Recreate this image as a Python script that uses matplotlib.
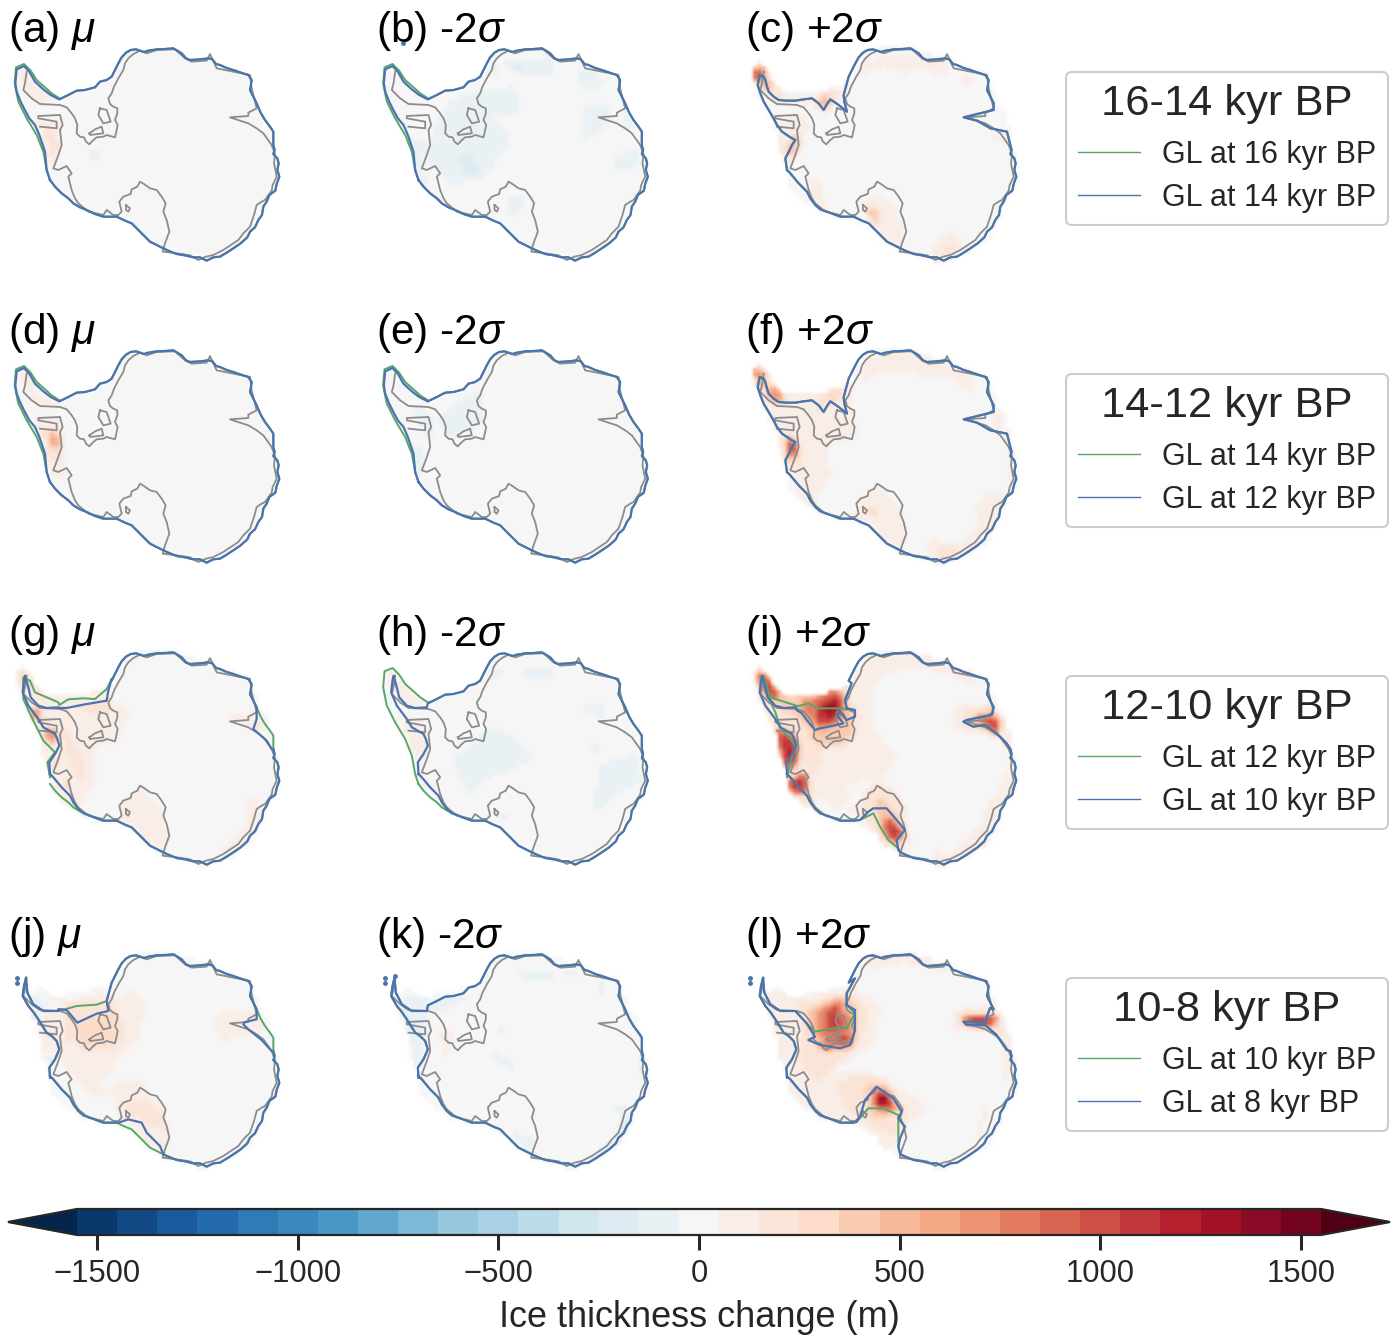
import matplotlib
matplotlib.use("Agg")
import matplotlib.pyplot as plt
import numpy as np
from matplotlib.cm import ScalarMappable
from matplotlib.colors import BoundaryNorm, ListedColormap
from matplotlib.lines import Line2D
from matplotlib.path import Path

plt.rcParams['font.family'] = ['Liberation Sans', 'DejaVu Sans']
plt.rcParams['mathtext.fontset'] = 'custom'
plt.rcParams['mathtext.it'] = 'Liberation Sans:italic'
plt.rcParams['mathtext.rm'] = 'Liberation Sans'

# map coordinates: 3 units per pixel, same frame in each panel
pen_far = [(150, 450), (140, 420), (135, 365), (118, 315), (105, 285), (88, 265), (72, 235), (62, 215), (50, 185), (46, 160), (50, 118), (72, 108), (88, 125), (105, 155), (130, 178), (152, 195), (178, 208)]
pen_out = [(150, 450), (140, 420), (130, 365), (110, 315), (80, 265), (55, 215), (44, 160), (48, 112), (72, 102), (92, 122), (110, 150), (135, 172), (155, 190), (178, 205)]
pen_c = [(150, 420), (145, 385), (158, 360), (165, 345), (175, 330), (160, 322), (150, 315), (135, 305), (120, 285), (108, 262), (95, 240), (80, 215), (70, 190), (62, 165), (68, 135), (80, 140), (85, 150), (90, 170), (95, 185), (110, 200), (125, 210), (150, 212), (175, 212)]
pen_g_blue = [(150, 420), (148, 385), (165, 360), (178, 335), (172, 315), (165, 300), (130, 280), (115, 255), (100, 235), (85, 215), (68, 175), (72, 140), (75, 125), (85, 160), (92, 190), (115, 215), (140, 222), (175, 220)]
pen_g_green = [(150, 430), (142, 385), (165, 355), (130, 320), (95, 250), (70, 195), (70, 130), (90, 140), (105, 175), (175, 205)]
pen_i_green = [(150, 430), (160, 385), (175, 335), (130, 280), (115, 235), (85, 170), (80, 130), (100, 190), (178, 215)]
pen_l = [(150, 425), (148, 395), (165, 370), (178, 340), (170, 315), (155, 300), (140, 290), (115, 250), (100, 228), (85, 210), (68, 180), (72, 150), (78, 125), (82, 170), (100, 205), (130, 225), (175, 225)]

wed_far = [(178, 208), (205, 195), (230, 182), (255, 180), (285, 172), (300, 155), (320, 150), (335, 140)]
wed_c = [(175, 212), (200, 208), (225, 205), (245, 220), (260, 240), (270, 222), (280, 208), (305, 225), (330, 245), (322, 215), (320, 195), (335, 140)]
wed_g_blue = [(175, 222), (200, 222), (250, 212), (320, 200), (325, 170), (335, 135)]
wed_g_green = [(178, 213), (205, 196), (250, 193), (285, 195), (320, 165), (335, 135)]
wed_i_blue = [(179, 228), (195, 238), (209, 258), (234, 288), (249, 283), (299, 273), (319, 268), (299, 243), (309, 233), (329, 258), (354, 248), (354, 228), (329, 223), (324, 198), (344, 148)]
wed_i_green = [(178, 218), (214, 208), (244, 223), (274, 223), (319, 223), (329, 228), (324, 198), (344, 148)]
wed_j_blue = [(175, 220), (200, 222), (232, 260), (290, 233), (325, 225), (320, 195), (335, 140)]
wed_j_green = [(175, 220), (195, 220), (230, 210), (290, 206), (320, 195), (335, 140)]
wed_l_blue = [(175, 225), (209, 262), (234, 302), (214, 312), (249, 327), (309, 337), (339, 327), (354, 282), (354, 222), (329, 207), (329, 172), (354, 127)]
wed_l_green = [(175, 225), (209, 262), (234, 287), (289, 277), (329, 277), (354, 232), (329, 207), (329, 172), (354, 127)]

east = [(335, 140), (345, 120), (355, 100), (365, 82), (378, 68), (392, 60), (408, 58), (420, 62), (432, 66), (445, 62), (470, 58), (495, 57), (520, 55), (532, 62), (545, 70), (558, 85), (570, 90), (600, 88), (625, 85), (637, 88), (648, 102), (660, 105), (680, 114), (700, 120), (720, 127), (745, 135), (755, 150), (752, 170), (750, 180), (760, 200), (770, 220)]
amery_far = [(770, 220), (782, 248), (795, 270), (810, 290), (820, 305), (820, 345)]
amery_c = [(770, 240), (680, 262), (720, 272), (760, 295), (810, 305), (820, 345)]
amery_g = [(770, 255), (760, 285), (800, 320), (815, 345)]
amery_j = [(770, 250), (735, 258), (730, 265), (745, 280), (785, 312), (815, 345)]
amery_i = [(764, 243), (689, 258), (679, 263), (709, 278), (744, 273), (779, 298), (809, 328)]
amery_l = [(759, 216), (744, 258), (679, 257), (689, 267), (744, 267), (779, 297), (809, 342)]
wilkes = [(820, 345), (824, 360), (820, 372), (832, 385), (836, 400), (832, 420), (838, 440), (830, 462), (826, 482), (808, 495), (800, 515), (790, 530), (786, 555), (775, 570), (765, 592), (750, 605), (742, 622), (722, 640), (700, 655), (680, 668), (660, 680), (640, 682), (620, 692), (600, 682), (580, 682), (555, 676), (530, 672), (505, 662), (490, 655)]

ross_far = [(490, 655), (450, 635), (435, 620), (420, 605), (395, 580), (375, 572), (350, 560)]
ross_i_blue = [(484, 648), (479, 618), (504, 588), (479, 558), (449, 523), (409, 523), (394, 533), (369, 558), (350, 560)]
ross_i_green = [(484, 643), (454, 618), (429, 578), (409, 538), (369, 558), (350, 560)]
ross_j_blue = [(490, 655), (480, 630), (440, 590), (425, 560), (385, 550), (355, 560)]
ross_l_blue = [(484, 632), (489, 607), (504, 572), (484, 547), (494, 527), (469, 487), (419, 452), (384, 492), (369, 542), (359, 557)]
ross_l_green = [(484, 632), (484, 537), (439, 517), (394, 517), (359, 557)]

west_far = [(350, 560), (310, 560), (285, 552), (260, 540), (240, 532), (220, 520), (205, 505), (185, 490), (165, 470), (150, 450)]
west_g = [(350, 560), (310, 560), (270, 545), (250, 538), (235, 525), (220, 505), (210, 485), (185, 460), (160, 430), (150, 420)]

# present day grounding line, grey in every panel
grey_main = [(80, 125), (75, 160), (70, 180), (95, 205), (120, 222), (180, 225), (200, 232), (215, 250), (225, 265), (232, 285), (230, 310), (240, 320), (252, 322), (258, 335), (268, 343), (278, 332), (290, 322), (310, 320), (320, 315), (345, 322), (350, 300), (353, 285), (345, 270), (352, 250), (352, 235), (340, 230), (330, 222), (325, 205), (335, 190), (342, 170), (355, 145), (370, 120), (375, 100), (385, 85), (400, 72), (420, 62), (440, 70), (470, 60), (525, 58), (555, 85), (575, 95), (620, 92), (630, 72), (650, 115), (700, 125), (750, 135), (755, 175), (770, 235), (745, 248), (745, 258), (690, 262), (720, 272), (745, 280), (770, 295), (790, 310), (815, 345), (825, 372), (822, 400), (830, 440), (818, 465), (815, 482), (795, 510), (785, 515), (770, 525), (762, 555), (750, 590), (730, 610), (715, 630), (700, 640), (670, 660), (640, 675), (618, 680), (595, 690), (570, 676), (530, 670), (488, 665), (495, 640), (508, 605), (500, 570), (490, 545), (497, 520), (485, 500), (470, 480), (450, 475), (432, 462), (420, 455), (412, 470), (395, 478), (392, 492), (370, 500), (358, 515), (365, 545), (355, 555), (340, 555), (320, 540), (310, 555), (265, 545), (235, 520), (225, 505), (215, 480), (205, 440), (215, 430), (200, 408), (175, 420), (160, 415), (175, 375), (185, 345), (180, 300), (188, 285), (180, 255), (115, 258), (115, 265), (170, 275), (170, 295), (120, 290)]
grey_berkner = [(300, 235), (320, 240), (332, 275), (310, 280), (295, 255), (300, 235)]
grey_korff = [(268, 310), (285, 298), (305, 290), (310, 310), (270, 315), (268, 310)]
grey_roosevelt = [(378, 525), (390, 535), (385, 545), (378, 540), (378, 525)]

extent_wide = [(50, 100), (70, 95), (100, 130), (150, 185), (220, 185), (300, 165), (335, 150), (355, 100), (385, 60), (430, 45), (525, 42), (560, 65), (630, 72), (660, 105), (740, 120), (770, 160), (775, 210), (800, 240), (820, 300), (830, 340), (838, 400), (838, 470), (820, 495), (805, 520), (775, 600), (745, 640), (700, 670), (640, 690), (620, 705), (590, 705), (575, 685), (520, 680), (480, 665), (440, 640), (415, 605), (350, 570), (270, 560), (240, 545), (190, 515), (155, 470), (140, 400), (120, 350), (110, 290), (60, 190), (45, 130)]
extent_late = [(72, 130), (85, 160), (125, 155), (170, 180), (250, 160), (330, 150), (355, 100), (385, 60), (430, 45), (525, 42), (560, 65), (630, 72), (660, 105), (740, 120), (770, 160), (775, 210), (800, 240), (820, 300), (830, 340), (838, 400), (838, 470), (820, 495), (805, 520), (775, 600), (745, 640), (700, 670), (640, 690), (620, 705), (590, 705), (575, 685), (520, 680), (480, 665), (440, 640), (415, 605), (350, 570), (270, 560), (240, 545), (190, 515), (155, 470), (140, 400), (120, 350), (110, 290), (80, 210), (70, 190)]

# ice thickness change patches per panel: (metres, outline), lowest first
patches_a = [
    (100, [(60, 110), (75, 110), (105, 160), (165, 210), (120, 220), (90, 210), (60, 140)]),
    (100, [(110, 270), (180, 270), (185, 360), (165, 400), (145, 405), (125, 330)]),
    (200, [(130, 280), (165, 300), (180, 350), (155, 375)]),
    (-100, [(265, 360), (290, 360), (305, 395), (275, 390)]),
]
patches_b = [
    (-100, [(250, 210), (340, 180), (440, 170), (455, 260), (380, 260), (430, 330), (350, 440), (250, 470), (180, 400), (190, 300)]),
    (-100, [(400, 90), (560, 80), (560, 130), (440, 140)]),
    (-100, [(630, 120), (690, 120), (700, 170), (640, 180)]),
    (-100, [(640, 230), (720, 220), (720, 280), (640, 340)]),
    (-100, [(730, 380), (810, 350), (810, 410), (740, 420)]),
    (-100, [(770, 240), (810, 310), (760, 290)]),
    (-100, [(420, 500), (470, 500), (470, 540), (410, 570)]),
    (-100, [(120, 320), (180, 340), (165, 420), (200, 480), (150, 460)]),
    (-200, [(270, 370), (320, 370), (325, 440), (285, 440)]),
    (-200, [(362, 112), (392, 112), (388, 128), (365, 126)]),
    (-200, [(430, 95), (470, 100), (465, 120), (430, 115)]),
]
patches_c = [
    (100, [(370, 100), (440, 75), (530, 70), (620, 90), (640, 140), (560, 120), (500, 130), (440, 110), (375, 130)]),
    (100, [(680, 130), (705, 135), (700, 170), (680, 165)]),
    (100, [(50, 100), (80, 100), (140, 190), (230, 200), (300, 170), (330, 190), (270, 240), (240, 240), (175, 215), (110, 230), (70, 180)]),
    (100, [(170, 240), (215, 260), (220, 300), (190, 330), (190, 370), (165, 400), (130, 400), (110, 290)]),
    (100, [(215, 450), (250, 450), (270, 540), (240, 540)]),
    (100, [(355, 520), (420, 490), (480, 530), (500, 620), (480, 650), (430, 620), (410, 585)]),
    (100, [(580, 670), (600, 620), (640, 600), (690, 650), (640, 685), (590, 700)]),
    (100, [(760, 320), (810, 300), (810, 350)]),
    (200, [(60, 100), (75, 105), (130, 190), (170, 215), (110, 210), (60, 140)]),
    (200, [(240, 190), (305, 170), (300, 205), (270, 240), (240, 210)]),
    (200, [(150, 310), (190, 320), (180, 370), (155, 400)]),
    (200, [(390, 530), (420, 535), (430, 590), (400, 580)]),
    (200, [(610, 650), (650, 650), (680, 660), (620, 680)]),
    (500, [(48, 105), (85, 110), (110, 180), (70, 170)]),
    (500, [(250, 195), (285, 205), (265, 240), (245, 215)]),
    (500, [(160, 315), (190, 330), (178, 375), (155, 375)]),
    (500, [(390, 535), (418, 550), (430, 590), (405, 580)]),
    (1100, [(48, 115), (70, 115), (68, 150), (50, 150)]),
]
patches_d = [
    (100, [(60, 110), (85, 115), (120, 190), (180, 220), (150, 230), (110, 220), (70, 170)]),
    (100, [(100, 250), (185, 260), (195, 350), (200, 440), (150, 440), (130, 340)]),
    (200, [(120, 280), (180, 290), (190, 380), (150, 400)]),
    (700, [(150, 300), (182, 318), (175, 345), (152, 340)]),
]
patches_e = [
    (-100, [(270, 210), (350, 170), (340, 280), (240, 320), (200, 270)]),
    (-100, [(120, 220), (180, 240), (200, 270), (180, 330), (170, 300)]),
    (-100, [(120, 330), (170, 360), (170, 450), (130, 400)]),
]
patches_f = [
    (100, [(370, 90), (440, 60), (530, 60), (640, 100), (700, 130), (710, 180), (680, 170), (640, 140), (560, 130), (500, 120), (430, 120), (370, 150)]),
    (100, [(60, 100), (330, 150), (350, 150), (340, 240), (360, 300), (340, 320), (270, 340), (280, 430), (230, 510), (260, 545), (190, 500), (130, 350), (70, 200)]),
    (100, [(355, 510), (420, 465), (490, 520), (510, 610), (490, 660), (430, 620), (410, 580), (350, 565)]),
    (100, [(750, 470), (800, 490), (770, 590), (700, 660), (620, 690), (570, 680), (580, 620), (660, 630), (720, 580), (710, 530)]),
    (100, [(760, 240), (800, 250), (800, 300), (830, 370), (835, 450), (810, 440), (810, 330), (770, 300)]),
    (200, [(70, 115), (110, 180), (170, 215), (120, 215), (85, 190), (60, 140)]),
    (200, [(240, 190), (320, 165), (320, 210), (280, 210), (245, 250)]),
    (200, [(130, 300), (185, 320), (190, 400), (150, 410), (130, 350)]),
    (200, [(610, 640), (680, 660), (640, 685), (590, 680)]),
    (200, [(395, 530), (420, 530), (425, 560), (400, 560)]),
    (400, [(60, 105), (80, 120), (130, 190), (170, 210), (110, 205), (75, 175), (55, 130)]),
    (400, [(275, 185), (310, 175), (305, 215), (275, 215)]),
    (400, [(150, 320), (180, 325), (165, 395), (150, 390)]),
    (400, [(395, 530), (425, 545), (415, 565)]),
    (800, [(50, 110), (80, 115), (78, 175), (58, 170)]),
    (800, [(105, 165), (135, 185), (125, 210), (95, 195)]),
    (800, [(148, 315), (182, 330), (172, 380), (148, 375)]),
    (1100, [(150, 320), (178, 335), (168, 370), (150, 365)]),
    (1100, [(52, 115), (68, 120), (65, 155), (55, 150)]),
]
patches_g = [
    (100, [(55, 100), (80, 105), (150, 180), (250, 170), (330, 170), (340, 200), (395, 225), (380, 260), (350, 330), (280, 340), (280, 460), (235, 530), (185, 510), (130, 370), (120, 340), (70, 210)]),
    (100, [(360, 510), (420, 455), (490, 530), (510, 610), (490, 660), (430, 615), (410, 575), (360, 560)]),
    (100, [(740, 490), (800, 510), (760, 600), (720, 640), (640, 670), (600, 680), (680, 640), (730, 590)]),
    (100, [(680, 250), (760, 230), (780, 240), (790, 290), (740, 280)]),
    (200, [(70, 100), (110, 160), (160, 200), (100, 190), (60, 130)]),
    (200, [(210, 210), (320, 195), (335, 230), (295, 250)]),
    (200, [(170, 250), (210, 290), (260, 410), (240, 450), (200, 370), (185, 310)]),
    (200, [(760, 250), (790, 270), (785, 305), (760, 290)]),
    (400, [(110, 240), (135, 270), (175, 295), (175, 320), (150, 325)]),
    (400, [(190, 420), (215, 440), (215, 470), (190, 450)]),
    (400, [(160, 370), (175, 370), (170, 410), (155, 400)]),
    (400, [(60, 110), (75, 115), (90, 170), (70, 160)]),
    (800, [(95, 228), (125, 235), (122, 262), (95, 262)]),
    (800, [(135, 288), (172, 295), (170, 325), (140, 320)]),
]
patches_h = [
    (-100, [(350, 120), (400, 105), (395, 125), (370, 130)]),
    (-100, [(270, 360), (360, 280), (430, 300), (490, 370), (450, 400), (360, 430), (300, 480), (250, 370)]),
    (-100, [(450, 100), (560, 110), (555, 140), (470, 130)]),
    (-100, [(640, 210), (700, 210), (700, 250), (650, 240)]),
    (-100, [(660, 330), (700, 340), (680, 370)]),
    (-100, [(690, 390), (810, 360), (820, 450), (740, 480), (650, 560), (630, 600), (680, 500)]),
    (-100, [(420, 530), (410, 570), (390, 550)]),
    (100, [(55, 100), (90, 110), (160, 190), (170, 215), (120, 210), (70, 160)]),
    (100, [(95, 240), (160, 260), (185, 320), (170, 390), (155, 420), (190, 460), (215, 470), (170, 470), (130, 350)]),
]
patches_i = [
    (100, [(50, 90), (100, 120), (180, 180), (320, 150), (345, 130), (400, 60), (530, 60), (620, 60), (700, 110), (720, 160), (650, 130), (540, 100), (440, 120), (400, 170), (400, 270), (480, 370), (440, 420), (330, 450), (340, 490), (300, 530), (250, 480), (240, 540), (160, 500), (130, 400), (110, 300), (60, 180)]),
    (100, [(330, 530), (420, 430), (500, 490), (520, 620), (500, 660), (440, 640), (380, 560)]),
    (100, [(650, 220), (760, 200), (820, 300), (830, 400), (820, 490), (780, 540), (740, 650), (640, 690), (570, 690), (590, 640), (640, 660), (730, 570), (750, 500), (800, 440), (810, 350), (770, 300), (690, 300), (650, 280)]),
    (200, [(60, 90), (100, 140), (180, 170), (320, 150), (350, 210), (370, 250), (350, 330), (260, 350), (240, 420), (200, 380), (170, 420), (190, 470), (220, 520), (160, 480), (130, 400), (110, 300), (60, 170)]),
    (200, [(370, 490), (430, 440), (490, 500), (510, 610), (480, 650), (430, 620), (380, 550)]),
    (200, [(680, 230), (760, 210), (800, 270), (780, 300), (680, 280)]),
    (400, [(55, 100), (90, 130), (170, 190), (310, 155), (340, 220), (350, 280), (340, 320), (250, 340), (230, 320), (190, 270), (130, 220), (80, 170)]),
    (400, [(120, 270), (170, 290), (190, 350), (175, 400), (140, 410), (120, 340)]),
    (400, [(150, 430), (200, 430), (220, 490), (170, 470)]),
    (400, [(400, 500), (450, 500), (490, 560), (500, 610), (470, 630), (440, 600)]),
    (400, [(700, 240), (760, 230), (795, 260), (770, 295), (700, 270)]),
    (800, [(60, 110), (80, 130), (130, 200), (90, 190), (65, 150)]),
    (800, [(180, 210), (300, 160), (320, 230), (300, 270), (240, 285), (210, 250), (195, 220)]),
    (800, [(125, 290), (165, 310), (175, 370), (150, 395), (130, 340)]),
    (800, [(155, 440), (200, 430), (210, 470), (170, 470)]),
    (800, [(440, 550), (475, 580), (495, 610), (470, 625), (440, 590)]),
    (800, [(720, 250), (760, 235), (785, 275), (770, 290), (720, 265)]),
    (1100, [(58, 115), (85, 120), (130, 200), (95, 195)]),
    (1100, [(230, 220), (300, 180), (315, 220), (290, 265), (245, 270)]),
    (1100, [(120, 285), (175, 310), (182, 380), (148, 405), (125, 340)]),
    (1100, [(148, 430), (205, 425), (215, 478), (165, 480)]),
    (1100, [(450, 555), (490, 585), (500, 615), (470, 630), (445, 595)]),
    (1100, [(740, 250), (780, 265), (782, 295), (745, 285)]),
    (1300, [(150, 335), (172, 345), (160, 385)]),
    (1300, [(260, 215), (295, 195), (305, 240), (265, 255)]),
    (1300, [(752, 262), (782, 278), (770, 298)]),
]
patches_j = [
    (100, [(120, 155), (160, 185), (230, 190), (300, 170), (340, 175), (410, 170), (440, 210), (410, 320), (360, 370), (300, 450), (330, 480), (340, 440), (420, 430), (500, 530), (510, 620), (490, 650), (430, 620), (405, 570), (360, 550), (335, 480), (270, 480), (180, 370), (120, 340)]),
    (100, [(640, 240), (680, 220), (770, 220), (800, 270), (760, 300), (660, 310)]),
    (200, [(200, 200), (330, 190), (360, 240), (380, 300), (330, 350), (260, 350), (200, 310)]),
    (200, [(380, 500), (430, 490), (490, 530), (490, 580), (430, 560), (380, 520)]),
    (300, [(230, 260), (300, 240), (350, 230), (350, 310), (270, 340), (235, 320)]),
    (-100, [(85, 170), (150, 190), (190, 210), (130, 220), (100, 270), (90, 240)]),
    (-100, [(140, 350), (170, 370), (150, 400), (145, 390)]),
]
patches_k = [
    (-100, [(105, 180), (200, 190), (280, 180), (330, 170), (225, 230), (180, 225), (170, 330), (170, 380), (140, 390), (125, 310), (95, 230)]),
    (-100, [(440, 100), (550, 100), (550, 140), (470, 130)]),
    (-100, [(585, 105), (630, 105), (640, 125), (590, 125)]),
    (-100, [(690, 140), (710, 145), (700, 175), (690, 165)]),
    (-100, [(385, 270), (415, 280), (405, 300), (385, 295)]),
    (-100, [(370, 340), (430, 370), (430, 400), (385, 380)]),
    (-100, [(720, 520), (780, 510), (790, 560), (740, 630), (720, 660), (640, 680), (740, 600), (750, 530)]),
    (-100, [(430, 590), (500, 600), (490, 660), (440, 620)]),
    (-100, [(810, 360), (830, 380), (825, 430), (810, 420)]),
    (-200, [(105, 235), (130, 250), (150, 280), (120, 280)]),
    (-200, [(140, 320), (170, 350), (150, 380)]),
    (-200, [(760, 560), (790, 540), (770, 600), (745, 620)]),
    (100, [(215, 290), (260, 280), (240, 360), (220, 340)]),
]
patches_l = [
    (100, [(80, 170), (130, 160), (180, 190), (250, 160), (310, 160), (340, 150), (390, 180), (430, 210), (420, 300), (370, 350), (300, 400), (380, 400), (470, 450), (570, 510), (550, 540), (500, 570), (495, 620), (435, 640), (400, 580), (360, 560), (270, 560), (220, 520), (160, 470), (120, 360), (110, 280)]),
    (100, [(640, 220), (770, 210), (820, 310), (820, 420), (770, 470), (730, 590), (650, 690), (700, 630), (740, 520), (800, 430), (800, 340), (770, 290), (650, 290)]),
    (100, [(380, 60), (530, 50), (620, 80), (640, 110), (500, 80), (400, 100)]),
    (200, [(180, 200), (310, 180), (350, 200), (390, 210), (380, 300), (330, 350), (290, 400), (230, 440), (180, 370), (200, 300)]),
    (200, [(300, 430), (410, 420), (500, 500), (510, 570), (490, 600), (440, 590), (370, 550), (310, 500)]),
    (200, [(660, 230), (760, 220), (800, 300), (740, 280), (660, 270)]),
    (400, [(210, 220), (300, 180), (350, 190), (360, 230), (350, 340), (260, 350), (220, 310), (200, 260)]),
    (400, [(380, 450), (440, 430), (490, 520), (440, 555), (390, 540)]),
    (400, [(680, 240), (770, 235), (780, 280), (700, 270)]),
    (800, [(240, 230), (300, 190), (340, 240), (340, 330), (260, 340), (240, 280)]),
    (800, [(410, 470), (450, 460), (480, 520), (430, 520), (400, 510)]),
    (800, [(690, 250), (770, 245), (760, 270), (700, 265)]),
    (1100, [(265, 235), (295, 215), (310, 270), (270, 290)]),
    (1100, [(310, 290), (330, 300), (320, 330), (300, 320)]),
    (1100, [(420, 470), (445, 470), (465, 510), (430, 515)]),
    (1100, [(680, 245), (775, 240), (770, 275), (695, 272)]),
    (1400, [(415, 475), (442, 475), (455, 510), (425, 505)]),
    (1400, [(695, 250), (735, 250), (730, 272), (700, 270)]),
]

panel_labels = ['(a) $\\mu$', '(b) -2$\\sigma$', '(c) +2$\\sigma$',
                '(d) $\\mu$', '(e) -2$\\sigma$', '(f) +2$\\sigma$',
                '(g) $\\mu$', '(h) -2$\\sigma$', '(i) +2$\\sigma$',
                '(j) $\\mu$', '(k) -2$\\sigma$', '(l) +2$\\sigma$']
panel_patches = [patches_a, patches_b, patches_c, patches_d, patches_e, patches_f,
                 patches_g, patches_h, patches_i, patches_j, patches_k, patches_l]

base_green = pen_out + wed_far + east + amery_far + wilkes + ross_far + west_far
base_blue = pen_far + wed_far + east + amery_far + wilkes + ross_far + west_far
gl_c = pen_c + wed_c + east + amery_c + wilkes + ross_far + west_g
gl_g_green = pen_g_green + wed_g_green + east + amery_far + wilkes + ross_far + west_far
gl_g_blue = pen_g_blue + wed_g_blue + east + amery_g + wilkes + ross_far + west_g
gl_h_blue = pen_g_blue + wed_far + east + amery_far + wilkes + ross_far + west_g
gl_i_green = pen_i_green + wed_i_green + east + amery_i + wilkes + ross_i_green + west_g
gl_i_blue = pen_g_blue + wed_i_blue + east + amery_i + wilkes + ross_i_blue + west_g
gl_j_green = pen_l + wed_j_green + east + amery_far + wilkes + ross_far + west_g
gl_j_blue = pen_l + wed_j_blue + east + amery_j + wilkes + ross_j_blue + west_g
gl_k = pen_l + wed_far + east + amery_far + wilkes + ross_far + west_g
gl_l_green = pen_l + wed_l_green + east + amery_l + wilkes + ross_l_green + west_g
gl_l_blue = pen_l + wed_l_blue + east + amery_l + wilkes + ross_l_blue + west_g

panel_extents = [base_green, base_green, extent_wide, base_green, base_green, extent_wide,
                 extent_wide, base_green, extent_wide, extent_late, extent_late, extent_late]
panel_green = [base_green, base_green, gl_c, base_green, base_green, gl_c,
               gl_g_green, base_green, gl_i_green, gl_j_green, gl_k, gl_l_green]
panel_blue = [base_blue, base_blue, gl_c, base_blue, base_blue, gl_c,
              gl_g_blue, gl_h_blue, gl_i_blue, gl_j_blue, gl_k, gl_l_blue]

# small detached grounding line islands by the peninsula tip, per panel
tip_dots = {1: [(103, 38)], 9: [(50, 126), (50, 142)], 10: [(50, 126), (50, 142), (80, 120)], 11: [(40, 127), (40, 140)]}

legend_titles = ['16-14 kyr BP', '14-12 kyr BP', '12-10 kyr BP', '10-8 kyr BP']
legend_green = ['GL at 16 kyr BP', 'GL at 14 kyr BP', 'GL at 12 kyr BP', 'GL at 10 kyr BP']
legend_blue = ['GL at 14 kyr BP', 'GL at 12 kyr BP', 'GL at 10 kyr BP', 'GL at 8 kyr BP']

levels = np.arange(-1550, 1551, 100)
cbar_ticks = [-1500, -1000, -500, 0, 500, 1000, 1500]

W, H = 1397, 1336
green = '#55a868'
blue = '#4c72b0'
dark = '#262626'

base = plt.get_cmap('RdBu_r')
cmap = ListedColormap([base((i + 0.5) / 31) for i in range(31)])
cmap.set_under('#04264d')
cmap.set_over('#4f0014')
cmap.set_bad((1, 1, 1, 0))
norm = BoundaryNorm(levels, 31)

# raster the patches onto a grid of 5 pixel cells, like the model grid in the figure
cell = 15
gx, gy = np.meshgrid(np.arange(cell / 2, 900, cell), np.arange(-90 + cell / 2, 750, cell))
grid_pts = np.column_stack([gx.ravel(), gy.ravel()])


def soften(z):
    kernel = np.array([1, 4, 1]) / 6
    z = np.apply_along_axis(lambda r: np.convolve(r, kernel, mode='same'), 0, z)
    return np.apply_along_axis(lambda r: np.convolve(r, kernel, mode='same'), 1, z)


fig = plt.figure(figsize=(W / 100, H / 100), dpi=100)

for i in range(12):
    row, col = i // 3, i % 3
    ax = fig.add_axes([col * 368.5 / W, 1 - (row * 302 + 280) / H, 300 / W, 280 / H])

    field = np.zeros(gx.shape)
    for val, poly in panel_patches[i]:
        field[Path(poly).contains_points(grid_pts).reshape(gx.shape)] = val
    field = soften(field)
    inside = Path(panel_extents[i]).contains_points(grid_pts).reshape(gx.shape)
    field = np.ma.masked_where(~inside, field)
    ax.imshow(field, extent=(0, 900, 750, -90), cmap=cmap, norm=norm, aspect='auto',
              interpolation='bilinear', interpolation_stage='rgba', zorder=1)

    for shape in [grey_main, grey_berkner, grey_korff, grey_roosevelt]:
        xy = np.array(shape)
        ax.plot(xy[:, 0], xy[:, 1], color='#8c8c8c', lw=1.3, zorder=3)
    xy = np.array(panel_green[i])
    ax.plot(xy[:, 0], xy[:, 1], color=green, lw=1.4, zorder=4)
    xy = np.array(panel_blue[i])
    ax.plot(xy[:, 0], xy[:, 1], color=blue, lw=1.6, zorder=5)
    if i in tip_dots:
        xy = np.array(tip_dots[i])
        ax.plot(xy[:, 0], xy[:, 1], 'o', color=blue, ms=2.5, zorder=5)

    ax.set_xlim(0, 900)
    ax.set_ylim(750, -90)
    ax.axis('off')
    ax.text(24, 36, panel_labels[i], fontsize=30.5, color='black', va='baseline', clip_on=False, zorder=6)

for r in range(4):
    handles = [Line2D([], [], color=green, lw=1), Line2D([], [], color=blue, lw=1)]
    top = (72 + r * 302)
    leg = fig.legend(handles, [legend_green[r], legend_blue[r]], title=legend_titles[r],
                     loc='upper left', bbox_to_anchor=(1066 / W, 1 - top / H, 322 / W, 0),
                     mode='expand', borderaxespad=0, fontsize=22, title_fontsize=31.3,
                     handlelength=2.03, handletextpad=0.72, labelspacing=0.42, borderpad=0.4,
                     frameon=True, fancybox=True, framealpha=1, edgecolor='#cccccc', labelcolor=dark)
    leg._legend_box.sep = 11.4
    leg.get_frame().set_linewidth(1.5)
    leg.get_title().set_color(dark)

cax = fig.add_axes([8 / W, 1 - 1235 / H, 1382 / W, 26 / H])
cb = fig.colorbar(ScalarMappable(norm=norm, cmap=cmap), cax=cax, orientation='horizontal',
                  extend='both', extendfrac=0.0555, ticks=cbar_ticks, spacing='proportional', drawedges=False)
cb.outline.set_linewidth(1.6)
cb.outline.set_edgecolor(dark)
cax.tick_params(axis='x', length=10.5, width=2.2, color=dark, labelcolor=dark, labelsize=22.3, pad=7)
cb.minorticks_off()
cb.set_label('Ice thickness change (m)', fontsize=26, color=dark, labelpad=7.5)

fig.savefig('out.png', dpi=100)
